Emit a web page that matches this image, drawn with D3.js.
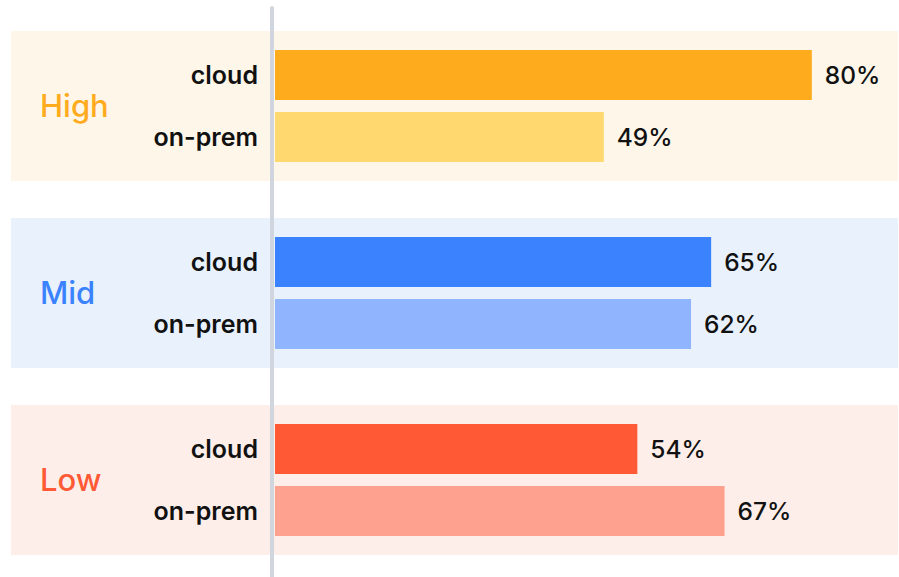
<!DOCTYPE html>
<html>
<head>
<meta charset="utf-8">
<script src="https://cdn.jsdelivr.net/npm/d3@7"></script>
<style>
  html, body { margin: 0; padding: 0; background: #ffffff; }
  svg { display: block; font-family: Inter, "Noto Sans", sans-serif; }
</style>
</head>
<body>
<svg id="chart" width="899" height="577"></svg>
<script>
const groups = ["High", "Mid", "Low"];
const subgroups = ["cloud", "on-prem"];
const cloudValues = [80, 65, 54];
const onpremValues = [49, 62, 67];
const valueLabels = ["80%", "49%", "65%", "62%", "54%", "67%"];

const groupColors = { High: "#FFAB1E", Mid: "#3B82FF", Low: "#FF5A35" };
const lightColors = { High: "#FFD870", Mid: "#91B4FF", Low: "#FFA18F" };
const bandColors  = { High: "#FEF6E8", Mid: "#E9F1FD", Low: "#FDEEEA" };

const data = groups.map((g, i) => ({
  group: g,
  values: [
    { sub: "cloud", value: cloudValues[i], label: valueLabels[i * 2] },
    { sub: "on-prem", value: onpremValues[i], label: valueLabels[i * 2 + 1] }
  ]
}));

const svg = d3.select("#chart");

const y = d3.scaleBand().domain(groups).range([31, 555]).paddingInner(37 / 187).paddingOuter(0);
const yInner = d3.scaleBand().domain(subgroups).range([0, y.bandwidth()])
  .paddingInner(12 / 62).paddingOuter(19 / 62);
const x = d3.scaleLinear().domain([0, 100]).range([275, 946]);

const g = svg.selectAll("g.group").data(data).join("g")
  .attr("class", "group")
  .attr("transform", d => `translate(0,${y(d.group)})`);

g.append("rect")
  .attr("x", 11).attr("y", 0)
  .attr("width", 898 - 11).attr("height", y.bandwidth())
  .attr("fill", d => bandColors[d.group]);

g.append("text")
  .attr("x", 40).attr("y", y.bandwidth() / 2)
  .attr("dy", "0.36em")
  .attr("font-size", 31).attr("font-weight", 500)
  .attr("fill", d => groupColors[d.group])
  .text(d => d.group);

g.selectAll("rect.bar").data(d => d.values.map(v => ({ ...v, group: d.group }))).join("rect")
  .attr("class", "bar")
  .attr("x", x(0))
  .attr("y", v => yInner(v.sub))
  .attr("width", v => x(v.value) - x(0))
  .attr("height", yInner.bandwidth())
  .attr("fill", v => v.sub === "cloud" ? groupColors[v.group] : lightColors[v.group]);

g.selectAll("text.sub").data(d => d.values).join("text")
  .attr("class", "sub")
  .attr("x", 258)
  .attr("y", v => yInner(v.sub) + yInner.bandwidth() / 2)
  .attr("dy", "0.36em")
  .attr("text-anchor", "end")
  .attr("font-size", 25).attr("font-weight", 600)
  .attr("fill", "#111111")
  .text(v => v.sub);

g.selectAll("text.val").data(d => d.values).join("text")
  .attr("class", "val")
  .attr("x", v => x(v.value) + 13)
  .attr("y", v => yInner(v.sub) + yInner.bandwidth() / 2)
  .attr("dy", "0.36em")
  .attr("font-size", 24.5).attr("font-weight", 500)
  .attr("fill", "#111111")
  .text(v => v.label);

svg.append("line")
  .attr("x1", 272).attr("x2", 272)
  .attr("y1", 8).attr("y2", 580)
  .attr("stroke", "#D1D5DE").attr("stroke-width", 4)
  .attr("stroke-linecap", "round");
</script>
</body>
</html>
